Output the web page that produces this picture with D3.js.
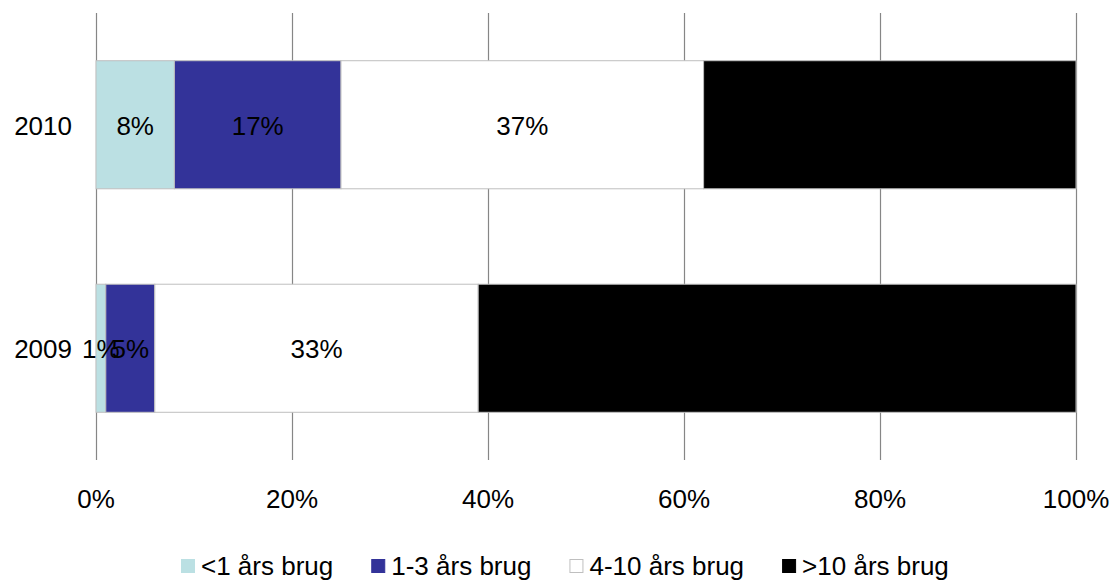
<!DOCTYPE html>
<html>
<head>
<meta charset="utf-8">
<script src="https://cdn.jsdelivr.net/npm/d3@7"></script>
<style>
  html, body { margin: 0; padding: 0; background: #fff; }
  svg { display: block; font-family: "Liberation Sans", Arial, sans-serif; }
</style>
</head>
<body>
<svg id="chart" width="1115" height="582"></svg>
<script>
// Share of users by length of use, per year (percent)
const years = ["2010", "2009"];
const seriesNames = ["<1 års brug", "1-3 års brug", "4-10 års brug", ">10 års brug"];
const seriesColors = ["#BBE0E3", "#333399", "#FFFFFF", "#000000"];
const lessThan1 = [8, 1];
const oneToThree = [17, 5];
const fourToTen = [37, 33];
const moreThan10 = [38, 61];
const xTicks = [0, 20, 40, 60, 80, 100];
// the black segment's label would be unreadable on black, so only the first three carry text
const labelled = [true, true, true, false];

const seriesValues = [lessThan1, oneToThree, fourToTen, moreThan10];
const rows = years.map((y, i) => {
  const r = { year: y };
  seriesNames.forEach((s, k) => { r[s] = seriesValues[k][i]; });
  return r;
});

const svg = d3.select("#chart");
const margin = { left: 96, right: 39, top: 13, bottom: 122 };
const W = 1115, H = 582;

const x = d3.scaleLinear().domain([0, 100]).range([margin.left, W - margin.right]);
const y = d3.scaleBand().domain(years).range([margin.top, H - margin.bottom]).paddingInner(0.427).paddingOuter(0.2135);

// vertical gridlines (including the 0% axis line)
svg.append("g")
  .selectAll("line")
  .data(xTicks)
  .join("line")
  .attr("x1", d => x(d) + 0.5).attr("x2", d => x(d) + 0.5)
  .attr("y1", margin.top).attr("y2", H - margin.bottom)
  .attr("stroke", "#868686").attr("stroke-width", 1.2);

// stacked segments
const stack = d3.stack().keys(seriesNames)(rows);
const layers = svg.append("g").selectAll("g")
  .data(stack)
  .join("g")
  .attr("fill", (d, i) => seriesColors[i]);

layers.selectAll("rect")
  .data(d => d)
  .join("rect")
  .attr("x", d => x(d[0]))
  .attr("y", d => y(d.data.year))
  .attr("width", d => x(d[1]) - x(d[0]))
  .attr("height", y.bandwidth())
  .attr("stroke", "#BFBFBF")
  .attr("stroke-width", 1);

// value labels centred in each segment
stack.forEach((layer, i) => {
  if (!labelled[i]) return;
  svg.append("g").selectAll("text")
    .data(layer)
    .join("text")
    .attr("x", d => (x(d[0]) + x(d[1])) / 2)
    .attr("y", d => y(d.data.year) + y.bandwidth() / 2 + 10)
    .attr("text-anchor", "middle")
    .attr("font-size", 26)
    .attr("fill", "#000")
    .text(d => (d[1] - d[0]) + "%");
});

// category labels
svg.append("g").selectAll("text")
  .data(years)
  .join("text")
  .attr("x", margin.left - 24)
  .attr("y", d => y(d) + y.bandwidth() / 2 + 10)
  .attr("text-anchor", "end")
  .attr("font-size", 26)
  .attr("fill", "#000")
  .text(d => d);

// x tick labels
svg.append("g").selectAll("text")
  .data(xTicks)
  .join("text")
  .attr("x", d => x(d))
  .attr("y", 508)
  .attr("text-anchor", "middle")
  .attr("font-size", 26)
  .attr("fill", "#000")
  .text(d => d + "%");

// legend
const legend = svg.append("g");
let lx = 181;
seriesNames.forEach((name, i) => {
  legend.append("rect")
    .attr("x", lx + 0.5).attr("y", 559.5)
    .attr("width", 13).attr("height", 13)
    .attr("fill", seriesColors[i])
    .attr("stroke", i === 2 ? "#BFBFBF" : seriesColors[i])
    .attr("stroke-width", 1);
  const t = legend.append("text")
    .attr("x", lx + 20).attr("y", 575)
    .attr("font-size", 26)
    .attr("fill", "#000")
    .text(name);
  lx += 20 + t.node().getComputedTextLength() + 38;
});
</script>
</body>
</html>
